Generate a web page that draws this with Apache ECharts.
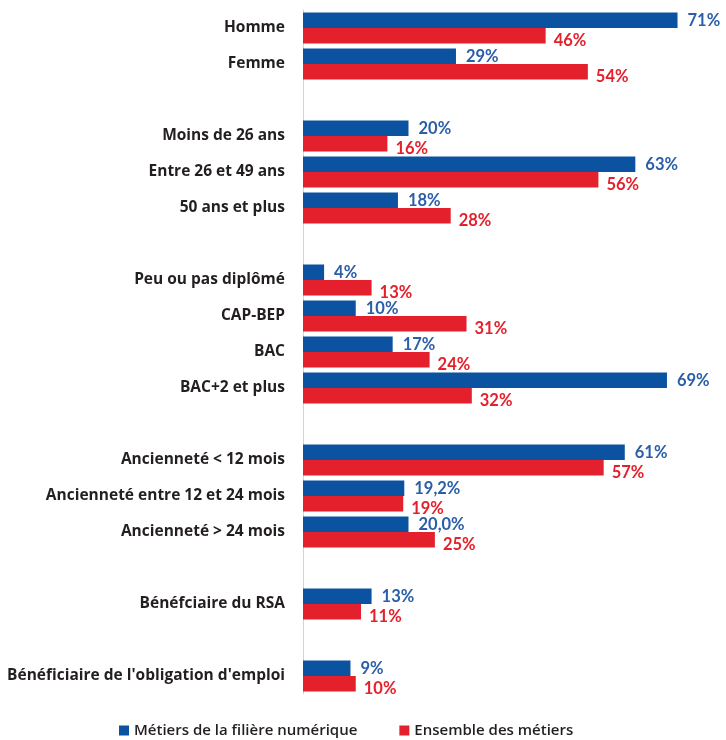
<!DOCTYPE html>
<html>
<head>
<meta charset="utf-8">
<script src="https://cdn.jsdelivr.net/npm/echarts@6/dist/echarts.min.js"></script>
<style>
  html, body { margin: 0; padding: 0; background: #fff; }
  #chart { width: 726px; height: 740px; }
</style>
</head>
<body>
<div id="chart"></div>
<script>
// catégories (chaînes vides = espaces entre les groupes)
const categories = [
  "Homme", "Femme", "",
  "Moins de 26 ans", "Entre 26 et 49 ans", "50 ans et plus", "",
  "Peu ou pas diplômé", "CAP-BEP", "BAC", "BAC+2 et plus", "",
  "Ancienneté < 12 mois", "Ancienneté entre 12 et 24 mois", "Ancienneté > 24 mois", "",
  "Bénéfciaire du RSA", "",
  "Bénéficiaire de l'obligation d'emploi"
];

const numValues = [71, 29, null, 20, 63, 18, null, 4, 10, 17, 69, null, 61, 19.2, 20.0, null, 13, null, 9];
const numLabels = ["71%", "29%", "", "20%", "63%", "18%", "", "4%", "10%", "17%", "69%", "", "61%", "19,2%", "20,0%", "", "13%", "", "9%"];

const allValues = [46, 54, null, 16, 56, 28, null, 13, 31, 24, 32, null, 57, 19, 25, null, 11, null, 10];
const allLabels = ["46%", "54%", "", "16%", "56%", "28%", "", "13%", "31%", "24%", "32%", "", "57%", "19%", "25%", "", "11%", "", "10%"];

const BLUE = "#0b52a0";
const RED = "#e3202b";
const FONT = "Lato, 'Open Sans', sans-serif";

const chart = echarts.init(document.getElementById("chart"));

const option = {
  animation: false,
  grid: { left: 303, right: 1, top: 10, height: 684 },
  xAxis: {
    type: "value",
    min: 0,
    max: 80,
    show: false
  },
  yAxis: {
    type: "category",
    inverse: true,
    data: categories,
    axisLine: { show: true, lineStyle: { color: "#e8c9d4", width: 1 } },
    axisTick: { show: false },
    axisLabel: {
      margin: 18,
      color: "#231f20",
      fontFamily: "'Open Sans', sans-serif",
      fontWeight: "bold",
      fontSize: 15.5
    }
  },
  legend: {
    left: 114,
    top: 718,
    itemWidth: 10,
    itemHeight: 10,
    itemGap: 42,
    icon: "rect",
    textStyle: {
      color: "#231f20",
      fontFamily: "'Open Sans', sans-serif",
      fontSize: 15,
      fontWeight: 600
    },
    data: ["Métiers de la filière numérique", "Ensemble des métiers"]
  },
  series: [
    {
      name: "Métiers de la filière numérique",
      type: "bar",
      data: numValues,
      barWidth: 15.5,
      barGap: "0%",
      itemStyle: { color: BLUE },
      label: {
        show: true,
        position: "right",
        distance: 10,
        color: "#2a5ea8",
        fontFamily: FONT,
        fontWeight: "bold",
        fontSize: 16.5,
        formatter: (p) => numLabels[p.dataIndex]
      }
    },
    {
      name: "Ensemble des métiers",
      type: "bar",
      data: allValues,
      barWidth: 15.5,
      barGap: "0%",
      itemStyle: { color: RED },
      label: {
        show: true,
        position: "right",
        distance: 8,
        offset: [0, 5],
        color: RED,
        fontFamily: FONT,
        fontWeight: "bold",
        fontSize: 16.5,
        formatter: (p) => allLabels[p.dataIndex]
      }
    }
  ]
};

chart.setOption(option);
</script>
</body>
</html>
